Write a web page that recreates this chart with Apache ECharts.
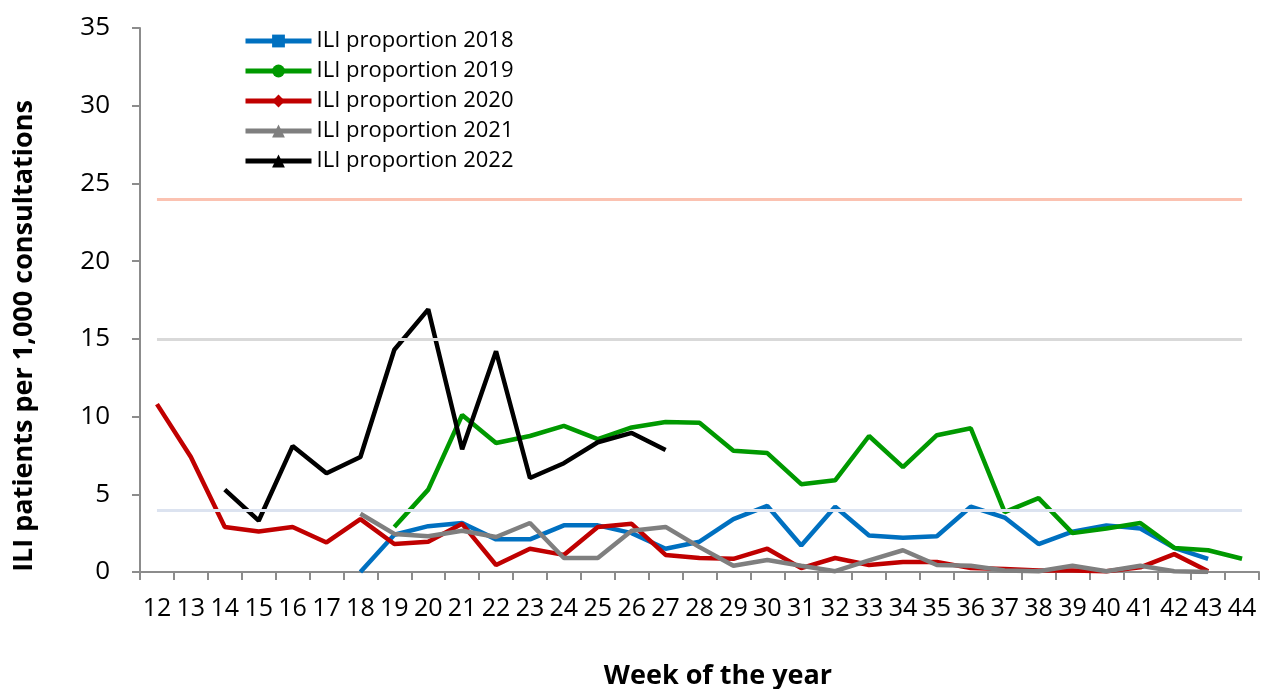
<!DOCTYPE html>
<html>
<head>
<meta charset="utf-8">
<script src="https://cdn.jsdelivr.net/npm/echarts@6/dist/echarts.min.js"></script>
<style>html,body{margin:0;padding:0;background:#fff}#chart{width:1263px;height:689px}</style>
</head>
<body>
<div id="chart"></div>
<script>
const weeks = ['12','13','14','15','16','17','18','19','20','21','22','23','24','25','26','27','28','29','30','31','32','33','34','35','36','37','38','39','40','41','42','43','44'];
const yTicks = [0,5,10,15,20,25,30,35];
// values per week (null = no data)
const ili2018 = [null,null,null,null,null,null,0,2.4,2.95,3.15,2.1,2.1,3.0,3.0,2.5,1.5,1.95,3.4,4.25,1.7,4.2,2.35,2.2,2.3,4.2,3.5,1.8,2.6,3.0,2.8,1.55,0.85,null];
const ili2019 = [null,null,null,null,null,null,null,2.9,5.3,10.1,8.3,8.75,9.4,8.55,9.3,9.65,9.6,7.8,7.65,5.65,5.9,8.75,6.75,8.8,9.25,3.85,4.75,2.5,2.8,3.15,1.55,1.4,0.85];
const ili2020 = [10.8,7.4,2.9,2.6,2.9,1.9,3.4,1.8,1.95,3.1,0.45,1.5,1.1,2.9,3.1,1.1,0.9,0.85,1.5,0.25,0.9,0.45,0.65,0.65,0.25,0.2,0.1,0.1,0.05,0.3,1.15,0.05,null];
const ili2021 = [null,null,null,null,null,null,3.75,2.45,2.3,2.65,2.25,3.15,0.9,0.9,2.65,2.9,1.6,0.4,0.77,0.4,0.05,0.75,1.4,0.45,0.4,0.1,0.05,0.4,0.05,0.4,0.05,0.0,null];
const ili2022 = [null,null,5.3,3.3,8.1,6.35,7.4,14.3,16.9,7.9,14.2,6.05,7.0,8.35,8.95,7.85,null,null,null,null,null,null,null,null,null,null,null,null,null,null,null,null,null];
// threshold levels
const thresholdHigh = 24;
const thresholdMid = 15;
const thresholdLow = 4;

const chart = echarts.init(document.getElementById('chart'));
const FONT = '"Open Sans", "Noto Sans", sans-serif';

function lineSeries(name, data, color, symbol, symSize) {
  return {
    name: name, type: 'line', data: data, connectNulls: false,
    symbol: symbol, symbolSize: symSize, showSymbol: false,
    lineStyle: { color: color, width: 4.5 },
    itemStyle: { color: color, borderWidth: 0 },
    emphasis: { disabled: true },
    z: 3
  };
}
function thresh(val, color) {
  return [{ coord: [weeks[0], val], lineStyle: { color: color, width: 3, type: 'solid' } },
          { coord: [weeks[weeks.length - 1], val] }];
}

chart.setOption({
  animation: false,
  grid: { left: 140, right: 4, top: 28, bottom: 117, containLabel: false },
  legend: {
    orient: 'vertical', left: 238, top: 25, itemWidth: 66, itemHeight: 16, itemGap: 8,
    lineStyle: { width: 5 },
    textStyle: { fontSize: 22, lineHeight: 22, color: '#000', fontFamily: FONT },
    data: ['ILI proportion 2018','ILI proportion 2019','ILI proportion 2020','ILI proportion 2021','ILI proportion 2022']
  },
  xAxis: {
    type: 'category', data: weeks, boundaryGap: true,
    axisLine: { lineStyle: { color: '#8c8c8c', width: 2 } },
    axisTick: { show: true, length: 8, lineStyle: { color: '#8c8c8c', width: 2 } },
    axisLabel: { fontSize: 25, color: '#000', fontFamily: FONT, margin: 24, interval: 0 },
    splitLine: { show: false }
  },
  yAxis: {
    type: 'value', min: 0, max: 35, interval: 5,
    axisLine: { show: true, lineStyle: { color: '#8c8c8c', width: 2 } },
    axisTick: { show: true, length: 8, lineStyle: { color: '#8c8c8c', width: 2 } },
    axisLabel: { fontSize: 26, color: '#000', fontFamily: FONT, margin: 30,
      formatter: function (v) { return yTicks.indexOf(v) >= 0 ? String(v) : ''; } },
    splitLine: { show: false }
  },
  graphic: [
    { type: 'text', x: 24, y: 336, rotation: Math.PI / 2,
      style: { text: 'ILI patients per 1,000 consultations', font: 'bold 27px ' + FONT, fill: '#000',
        textAlign: 'center', textVerticalAlign: 'middle' } },
    { type: 'text', x: 718, y: 676,
      style: { text: 'Week of the year', font: 'bold 27px ' + FONT, fill: '#000',
        textAlign: 'center', textVerticalAlign: 'middle' } }
  ],
  series: [
    {
      type: 'line', data: [], silent: true, z: 1,
      markLine: {
        silent: true, symbol: 'none', label: { show: false }, animation: false,
        data: [thresh(thresholdHigh, '#FBC2B1'), thresh(thresholdMid, '#D9D9D9'), thresh(thresholdLow, '#DCE3F0')]
      }
    },
    lineSeries('ILI proportion 2018', ili2018, '#0070C0', 'rect', 12),
    lineSeries('ILI proportion 2019', ili2019, '#009900', 'circle', 15),
    lineSeries('ILI proportion 2020', ili2020, '#C00000', 'diamond', 14),
    lineSeries('ILI proportion 2021', ili2021, '#7F7F7F', 'triangle', 7),
    lineSeries('ILI proportion 2022', ili2022, '#000000', 'triangle', 15)
  ]
});
</script>
</body>
</html>
